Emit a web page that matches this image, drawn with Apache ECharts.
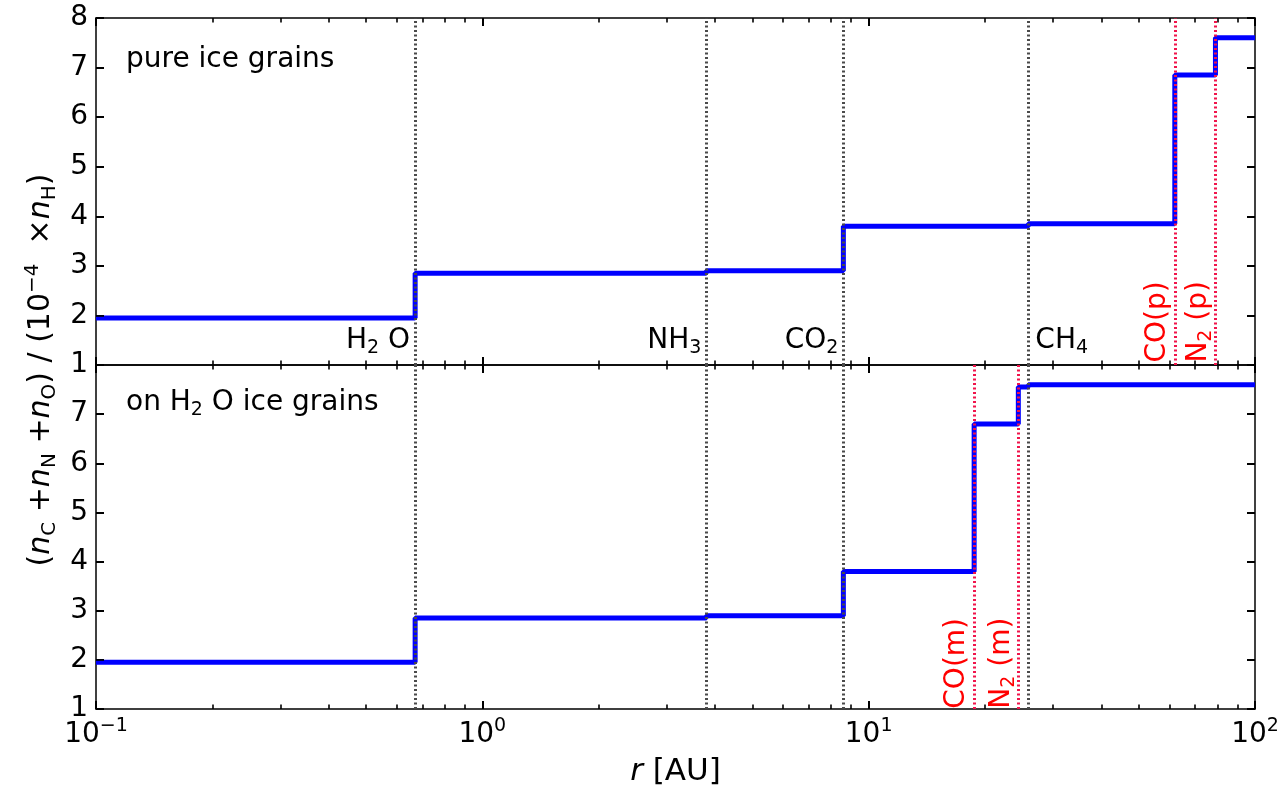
<!DOCTYPE html>
<html><head><meta charset="utf-8">
<script src="https://cdn.jsdelivr.net/npm/echarts@6/dist/echarts.min.js"></script>
<style>html,body{margin:0;padding:0;background:#fff}#c{width:1285px;height:788px}</style>
</head><body><div id="c"></div>
<script>
// ---- data ----
const edgesPure = [0.1, 0.67, 3.8, 8.6, 25.9, 62, 79, 100];
const valuesPure = [1.95, 2.85, 2.9, 3.8, 3.85, 6.85, 7.6, 7.6];
const edgesOnWater = [0.1, 0.67, 3.8, 8.6, 18.75, 24.4, 25.9, 100];
const valuesOnWater = [1.95, 2.85, 2.9, 3.8, 6.8, 7.55, 7.6, 7.6];
const snowLines = [0.67, 3.8, 8.6, 25.9];            // H2O, NH3, CO2, CH4
const snowLabels = ['{n|H}{s|2}{n| O}', '{n|NH}{s|3}', '{n|CO}{s|2}', '{n|CH}{s|4}'];
const snowLabelSide = ['left', 'left', 'left', 'right'];
const pureRedLines = [62, 79];                        // CO(p), N2(p)
const pureRedLabels = ['{n|CO(p)}', '{n|N}{s|2}{n| (p)}'];
const mixRedLines = [18.75, 24.4];                    // CO(m), N2(m)
const mixRedLabels = ['{n|CO(m)}', '{n|N}{s|2}{n| (m)}'];
const xMajorTicks = [0.1, 1, 10, 100];
const xMinorTicks = [0.2,0.3,0.4,0.5,0.6,0.7,0.8,0.9,2,3,4,5,6,7,8,9,20,30,40,50,60,70,80,90];
const yTicks = [2, 3, 4, 5, 6, 7];
const yMin = 1, yMax = 8;

const FF = 'DejaVu Sans';
const FS = 28;
const GRAY = '#4a4a4a', RED = '#f0144b', TXTRED = '#ff0000', BLUE = '#0000ff';

function mkRich(fs, sfs, c) {
  return {
    n: {fontFamily: FF, fontSize: fs, color: c, padding: [0,0,3,0], verticalAlign: 'bottom'},
    i: {fontFamily: FF, fontSize: fs, color: c, fontStyle: 'italic', padding: [0,0,3,0], verticalAlign: 'bottom'},
    s: {fontFamily: FF, fontSize: sfs, color: c, verticalAlign: 'bottom'},
    u: {fontFamily: FF, fontSize: sfs, color: c, padding: [0,0,Math.round(fs*0.57),0], verticalAlign: 'bottom'}
  };
}
const rich = mkRich(FS, 19, '#000');
const richRed = mkRich(FS, 19, TXTRED);
const richBig = mkRich(30, 20, '#000');

function stepData(edges, vals) { return edges.map((e, i) => [e, vals[i]]); }

const TICK = {show: true, inside: true, length: 8, lineStyle: {color: '#000', width: 2}};
function xAx(grid, pos, showLabel) {
  return {
    type: 'log', gridIndex: grid, position: pos, min: 0.1, max: 100,
    axisLine: {show: true, lineStyle: {color: '#000', width: 1.5}},
    axisTick: TICK,
    splitLine: {show: false},
    axisLabel: {
      show: showLabel, margin: 8,
      formatter: v => { const e = Math.round(Math.log10(v)); return '{n|10}{u|' + (e < 0 ? '−' + (-e) : e) + '}'; },
      rich: rich
    },
    name: showLabel ? '{i|r}{n| [AU]}' : '',
    nameLocation: 'middle', nameGap: 47,
    nameTextStyle: {rich: mkRich(31, 21, '#000')}
  };
}
function yAx(grid, pos, showLabel, hideTop) {
  return {
    type: 'value', gridIndex: grid, position: pos, min: yMin, max: yMax, interval: 1,
    axisLine: {show: true, lineStyle: {color: '#000', width: 1.5}},
    axisTick: TICK,
    splitLine: {show: false},
    axisLabel: {
      show: showLabel, margin: 8, fontFamily: FF, fontSize: FS, color: '#000',
      formatter: v => (hideTop && v === yMax) ? '' : String(v)
    }
  };
}

// tick segments (inward) in data space: 1 y-unit ~ 49.6 px, 1 decade ~ 386.5 px
const PX_Y = 1 / 49.6, PX_DEC = 1 / 386.5;
function tickSegments() {
  const segs = [];
  const st = {color: '#000', type: 'solid', width: 1.6};
  const addV = (x, len) => {
    const dy = len * PX_Y;
    segs.push([{coord: [x, yMin], lineStyle: st}, {coord: [x, yMin + dy]}]);
    segs.push([{coord: [x, yMax], lineStyle: st}, {coord: [x, yMax - dy]}]);
  };
  xMajorTicks.slice(1, -1).forEach(x => addV(x, 8));
  xMinorTicks.forEach(x => addV(x, 4.5));
  const f = Math.pow(10, 8 * PX_DEC);
  yTicks.forEach(y => {
    segs.push([{coord: [0.1, y], lineStyle: st}, {coord: [0.1 * f, y]}]);
    segs.push([{coord: [100, y], lineStyle: st}, {coord: [100 / f, y]}]);
  });
  return segs;
}

function vLines(gray, red) {
  const d = gray.map(v => ({xAxis: v, lineStyle: {color: GRAY}}));
  red.forEach(v => d.push({xAxis: v, lineStyle: {color: RED}}));
  return {
    silent: true, symbol: ['none', 'none'], label: {show: false},
    lineStyle: {type: [2, 2.5], width: 3},
    emphasis: {disabled: true},
    data: d.concat(tickSegments())
  };
}

function marks(yBase, yRot, withSnowLabels, redLines, redLabels) {
  const d = [];
  if (withSnowLabels) {
    snowLines.forEach((v, k) => {
      const left = snowLabelSide[k] === 'left';
      d.push({coord: [v, yBase], label: {show: true, position: 'inside', formatter: snowLabels[k], rich: rich,
        align: left ? 'right' : 'left', verticalAlign: 'bottom', offset: [left ? -5 : 7, 0]}});
    });
  }
  redLines.forEach((v, k) => {
    d.push({coord: [v, yRot], label: {show: true, position: 'inside', formatter: redLabels[k], rich: richRed,
      rotate: 90, align: 'left', verticalAlign: 'bottom', offset: [-12, 0]}});
  });
  return {silent: true, symbol: 'rect', symbolSize: 2, itemStyle: {color: 'rgba(0,0,0,0)'},
    emphasis: {disabled: true}, data: d};
}

const chart = echarts.init(document.getElementById('c'), null, {renderer: 'canvas'});
chart.setOption({
  animation: false,
  backgroundColor: '#fff',
  grid: [
    {left: 96, right: 30, top: 18, height: 347},
    {left: 96, right: 30, top: 365, height: 347}
  ],
  xAxis: [xAx(0, 'bottom', false), xAx(0, 'top', false), xAx(1, 'bottom', true), xAx(1, 'top', false)],
  yAxis: [yAx(0, 'left', true, false), yAx(0, 'right', false, false), yAx(1, 'left', true, true), yAx(1, 'right', false, false)],
  series: [
    {
      type: 'line', xAxisIndex: 0, yAxisIndex: 0, step: 'end', showSymbol: false, silent: true,
      lineStyle: {color: BLUE, width: 5}, emphasis: {disabled: true},
      data: stepData(edgesPure, valuesPure),
      markLine: vLines(snowLines, pureRedLines),
      markPoint: marks(1.15, 1.29, true, pureRedLines, pureRedLabels)
    },
    {
      type: 'line', xAxisIndex: 2, yAxisIndex: 2, step: 'end', showSymbol: false, silent: true,
      lineStyle: {color: BLUE, width: 5}, emphasis: {disabled: true},
      data: stepData(edgesOnWater, valuesOnWater),
      markLine: vLines(snowLines, mixRedLines),
      markPoint: marks(1.13, 1.25, false, mixRedLines, mixRedLabels)
    }
  ],
  graphic: [
    {type: 'text', left: 126, top: 46, silent: true,
      style: {text: 'pure ice grains', fontFamily: FF, fontSize: FS, fill: '#000'}},
    {type: 'text', left: 126, top: 389, silent: true,
      style: {text: '{n|on H}{s|2}{n| O ice grains}', rich: rich, fill: '#000'}},
    {type: 'text', x: 41, y: 370, rotation: Math.PI / 2, silent: true,
      style: {text: '{n|(}{i|n}{s|C}{n| +}{i|n}{s|N}{n| +}{i|n}{s|O}{n|) / (10}{u|−4}{n|  ×}{i|n}{s|H}{n|)}',
        rich: richBig, align: 'center', verticalAlign: 'middle', fill: '#000'}}
  ]
});
</script></body></html>
